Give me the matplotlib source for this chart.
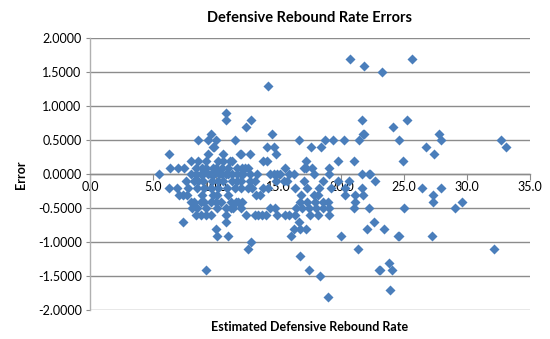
import matplotlib
matplotlib.use("Agg")
import matplotlib.pyplot as plt
from matplotlib.ticker import FormatStrFormatter

plt.rcParams['font.family'] = ['Lato', 'DejaVu Sans']

title = "Defensive Rebound Rate Errors"
x_label = "Estimated Defensive Rebound Rate"
y_label = "Error"

x_est = [
    20.7, 25.6, 21.8, 23.2, 14.2, 10.8,
    10.8, 12.8, 21.6, 25.2,
    12.4, 24.1,
    9.6, 14.5, 21.7, 21.8, 27.8,
    8.6, 9.4, 10.0, 11.5, 16.6, 18.7, 19.3, 20.2, 21.4, 24.6, 27.9, 32.7,
    9.8, 9.9, 14.1, 14.6, 17.6, 18.4, 26.7, 33.1,
    6.3, 9.4, 10.6, 11.9, 12.0, 12.7, 14.8, 27.4,
    8.0, 8.6, 9.2, 10.2, 10.6, 11.1, 11.3, 13.8, 14.1, 17.2, 19.7, 21.0, 24.9,
    6.4, 7.0, 7.5, 8.4, 8.9, 9.2, 9.8, 10.0, 10.5, 11.0, 11.7, 12.1, 12.3, 12.6, 15.5, 17.0, 17.2, 17.7, 19.0,
    5.5, 8.0, 8.4, 8.8, 9.0, 9.4, 9.6, 9.9, 10.3, 10.5, 10.8, 11.0, 11.3, 11.7, 12.0, 12.2, 12.7, 13.3, 14.3,
    14.6, 14.9, 15.1, 15.8, 16.2, 17.8, 19.0, 21.6, 22.2, 22.3,
    7.6, 8.3, 8.6, 9.0, 9.7, 10.2, 10.6, 11.3, 11.7, 12.0, 12.7, 13.1, 14.8, 15.4, 15.7, 17.0, 18.5, 19.7,
    20.6, 22.7,
    6.3, 6.9, 7.8, 8.5, 9.1, 9.6, 10.2, 10.9, 11.5, 12.0, 12.6, 12.9, 13.8, 14.2, 16.3, 17.3, 18.2, 19.2,
    20.3, 21.6, 26.4, 27.9,
    7.1, 7.4, 7.7, 8.9, 9.8, 10.1, 11.0, 13.2, 13.5, 16.8, 17.8, 18.1, 20.3, 21.1, 21.7, 27.3,
    8.0, 8.3, 8.8, 9.1, 9.6, 10.0, 10.4, 11.2, 11.6, 11.8, 12.1, 16.7, 17.3, 17.9, 18.5, 18.9, 21.1, 27.3,
    29.6,
    8.1, 8.5, 9.2, 10.1, 10.8, 11.2, 11.4, 12.0, 14.3, 14.7, 16.4, 16.9, 17.4, 18.0, 18.5, 19.0, 21.0, 22.2,
    25.0, 29.0,
    8.4, 8.8, 9.2, 9.6, 10.8, 12.4, 13.1, 13.4, 13.7, 14.0, 14.9, 15.5, 15.8, 16.3, 17.5, 18.1, 19.0,
    7.4, 10.8, 16.6, 22.6,
    10.0, 16.2, 16.7, 17.2, 22.0, 23.4,
    10.1, 11.0, 16.0, 20.0, 24.5, 24.6, 27.2,
    12.8,
    12.6, 21.3, 32.1,
    16.7,
    23.8,
    9.2, 17.4, 23.0, 23.1, 24.0,
    18.3,
    23.9,
    18.9,
]

error = [
    1.7, 1.7, 1.6, 1.5, 1.3, 0.9,
    0.8, 0.8, 0.8, 0.8,
    0.7, 0.7,
    0.6, 0.6, 0.6, 0.6, 0.6,
    0.5, 0.5, 0.5, 0.5, 0.5, 0.5, 0.5, 0.5, 0.5, 0.5, 0.5, 0.5,
    0.4, 0.4, 0.4, 0.4, 0.4, 0.4, 0.4, 0.4,
    0.3, 0.3, 0.3, 0.3, 0.3, 0.3, 0.3, 0.3,
    0.2, 0.2, 0.2, 0.2, 0.2, 0.2, 0.2, 0.2, 0.2, 0.2, 0.2, 0.2, 0.2,
    0.1, 0.1, 0.1, 0.1, 0.1, 0.1, 0.1, 0.1, 0.1, 0.1, 0.1, 0.1, 0.1, 0.1, 0.1, 0.1, 0.1, 0.1, 0.1,
    0.0, 0.0, 0.0, 0.0, 0.0, 0.0, 0.0, 0.0, 0.0, 0.0, 0.0, 0.0, 0.0, 0.0, 0.0, 0.0, 0.0, 0.0, 0.0,
    0.0, 0.0, 0.0, 0.0, 0.0, 0.0, 0.0, 0.0, 0.0, 0.0,
    -0.1, -0.1, -0.1, -0.1, -0.1, -0.1, -0.1, -0.1, -0.1, -0.1, -0.1, -0.1, -0.1, -0.1, -0.1, -0.1, -0.1, -0.1,
    -0.1, -0.1,
    -0.2, -0.2, -0.2, -0.2, -0.2, -0.2, -0.2, -0.2, -0.2, -0.2, -0.2, -0.2, -0.2, -0.2, -0.2, -0.2, -0.2, -0.2,
    -0.2, -0.2, -0.2, -0.2,
    -0.3, -0.3, -0.3, -0.3, -0.3, -0.3, -0.3, -0.3, -0.3, -0.3, -0.3, -0.3, -0.3, -0.3, -0.3, -0.3,
    -0.4, -0.4, -0.4, -0.4, -0.4, -0.4, -0.4, -0.4, -0.4, -0.4, -0.4, -0.4, -0.4, -0.4, -0.4, -0.4, -0.4, -0.4,
    -0.4,
    -0.5, -0.5, -0.5, -0.5, -0.5, -0.5, -0.5, -0.5, -0.5, -0.5, -0.5, -0.5, -0.5, -0.5, -0.5, -0.5, -0.5, -0.5,
    -0.5, -0.5,
    -0.6, -0.6, -0.6, -0.6, -0.6, -0.6, -0.6, -0.6, -0.6, -0.6, -0.6, -0.6, -0.6, -0.6, -0.6, -0.6, -0.6,
    -0.7, -0.7, -0.7, -0.7,
    -0.8, -0.8, -0.8, -0.8, -0.8, -0.8,
    -0.9, -0.9, -0.9, -0.9, -0.9, -0.9, -0.9,
    -1.0,
    -1.1, -1.1, -1.1,
    -1.2,
    -1.3,
    -1.4, -1.4, -1.4, -1.4, -1.4,
    -1.5,
    -1.7,
    -1.8,
]

x_ticks = [0, 5, 10, 15, 20, 25, 30, 35]
y_ticks = [-2.0, -1.5, -1.0, -0.5, 0.0, 0.5, 1.0, 1.5, 2.0]

marker_color = "#4A7EBB"
grid_color = "#8C8C8C"

fig = plt.figure(figsize=(5.5, 3.39), dpi=100)
ax = fig.add_axes([0.1636, 0.0846, 0.8, 0.8024])

ax.scatter(x_est, error, marker='D', s=26, color=marker_color, linewidths=0, zorder=3)

ax.set_xlim(0, 35)
ax.set_ylim(-2.0, 2.0)
ax.set_yticks(y_ticks)
ax.set_xticks(x_ticks)
ax.yaxis.set_major_formatter(FormatStrFormatter('%.4f'))
ax.xaxis.set_major_formatter(FormatStrFormatter('%.1f'))

ax.grid(axis='y', color=grid_color, linewidth=1.0, zorder=0)
ax.set_axisbelow(True)

for s in ['top', 'right']:
    ax.spines[s].set_visible(False)
ax.spines['left'].set_color('#B0B0B0')
ax.spines['left'].set_linewidth(1.0)
ax.spines['bottom'].set_position(('data', 0))
ax.spines['bottom'].set_color(grid_color)
ax.spines['bottom'].set_linewidth(1.0)

ax.tick_params(axis='y', length=3, color=grid_color, labelsize=9, pad=3)
ax.tick_params(axis='x', length=4, color=grid_color, direction='out', labelsize=9, pad=1)

ax.set_title(title, fontsize=10.5, fontweight='bold', pad=12)
fig.text(0.5636, 0.035, x_label, ha='center', va='center', fontsize=9, fontweight='bold')
fig.text(0.038, 0.485, y_label, ha='center', va='center', rotation=90, fontsize=9, fontweight='bold')

fig.savefig("out.png", dpi=100)
